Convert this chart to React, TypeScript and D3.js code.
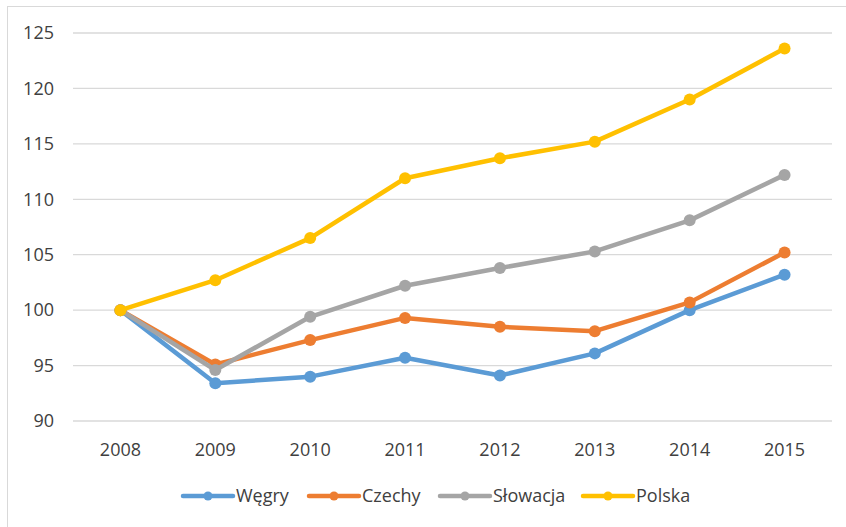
import React, { useEffect, useRef } from "react";
import * as d3 from "d3";

const years = ["2008", "2009", "2010", "2011", "2012", "2013", "2014", "2015"];
const seriesNames = ["Węgry", "Czechy", "Słowacja", "Polska"];
const wegry = [100, 93.4, 94.0, 95.7, 94.1, 96.1, 100.0, 103.2];
const czechy = [100, 95.1, 97.3, 99.3, 98.5, 98.1, 100.7, 105.2];
const slowacja = [100, 94.6, 99.4, 102.2, 103.8, 105.3, 108.1, 112.2];
const polska = [100, 102.7, 106.5, 111.9, 113.7, 115.2, 119.0, 123.6];
const yTicks = [90, 95, 100, 105, 110, 115, 120, 125];
const colors = ["#5B9BD5", "#ED7D31", "#A5A5A5", "#FFC000"];

const App = () => {
  const svgRef = useRef<SVGSVGElement>(null);

  useEffect(() => {
    const width = 846;
    const height = 527;
    const svg = d3.select(svgRef.current).attr("width", width).attr("height", height);
    svg.selectAll("*").remove();

    const font = "Open Sans, Liberation Sans, sans-serif";
    const textColor = "#404040";

    // chart frame
    svg
      .append("rect")
      .attr("x", 7.5)
      .attr("y", 6.5)
      .attr("width", 850)
      .attr("height", 540)
      .attr("fill", "#fff")
      .attr("stroke", "#d9d9d9");

    const x = d3.scalePoint().domain(years).range([73, 832]).padding(0.5);
    const y = d3.scaleLinear().domain([90, 125]).range([421, 33]);

    // gridlines
    svg
      .append("g")
      .selectAll("line")
      .data(yTicks)
      .enter()
      .append("line")
      .attr("x1", 73)
      .attr("x2", 832)
      .attr("y1", (d) => y(d))
      .attr("y2", (d) => y(d))
      .attr("stroke", "#d9d9d9")
      .attr("stroke-width", 1.3);

    // y labels
    svg
      .append("g")
      .selectAll("text")
      .data(yTicks)
      .enter()
      .append("text")
      .attr("x", 54)
      .attr("y", (d) => y(d))
      .attr("dy", "0.35em")
      .attr("text-anchor", "end")
      .style("font-family", font)
      .style("font-size", "18px")
      .style("fill", textColor)
      .text((d) => d);

    // x labels
    svg
      .append("g")
      .selectAll("text")
      .data(years)
      .enter()
      .append("text")
      .attr("x", (d) => x(d)!)
      .attr("y", 450)
      .attr("dy", "0.35em")
      .attr("text-anchor", "middle")
      .style("font-family", font)
      .style("font-size", "18px")
      .style("fill", textColor)
      .text((d) => d);

    const allSeries = [wegry, czechy, slowacja, polska];
    const line = d3
      .line<number>()
      .x((_, i) => x(years[i])!)
      .y((d) => y(d));

    allSeries.forEach((vals, si) => {
      const g = svg.append("g");
      g.append("path")
        .attr("d", line(vals))
        .attr("fill", "none")
        .attr("stroke", colors[si])
        .attr("stroke-width", 4.5)
        .attr("stroke-linejoin", "round")
        .attr("stroke-linecap", "round");
      g.selectAll("circle")
        .data(vals)
        .enter()
        .append("circle")
        .attr("cx", (_, i) => x(years[i])!)
        .attr("cy", (d) => y(d))
        .attr("r", 6)
        .attr("fill", colors[si]);
    });

    // legend
    const legendX = [183, 309, 440, 583];
    const legend = svg.append("g");
    seriesNames.forEach((name, i) => {
      const lx = legendX[i];
      legend
        .append("line")
        .attr("x1", lx)
        .attr("x2", lx + 50)
        .attr("y1", 496)
        .attr("y2", 496)
        .attr("stroke", colors[i])
        .attr("stroke-width", 4.5)
        .attr("stroke-linecap", "round");
      legend
        .append("circle")
        .attr("cx", lx + 25)
        .attr("cy", 496)
        .attr("r", 4.5)
        .attr("fill", colors[i]);
      legend
        .append("text")
        .attr("x", lx + 53)
        .attr("y", 496)
        .attr("dy", "0.35em")
        .style("font-family", font)
        .style("font-size", "18px")
        .style("fill", textColor)
        .text(name);
    });
  }, []);

  return <svg ref={svgRef} style={{ position: "absolute", left: 0, top: 0 }}></svg>;
};

export default App;
